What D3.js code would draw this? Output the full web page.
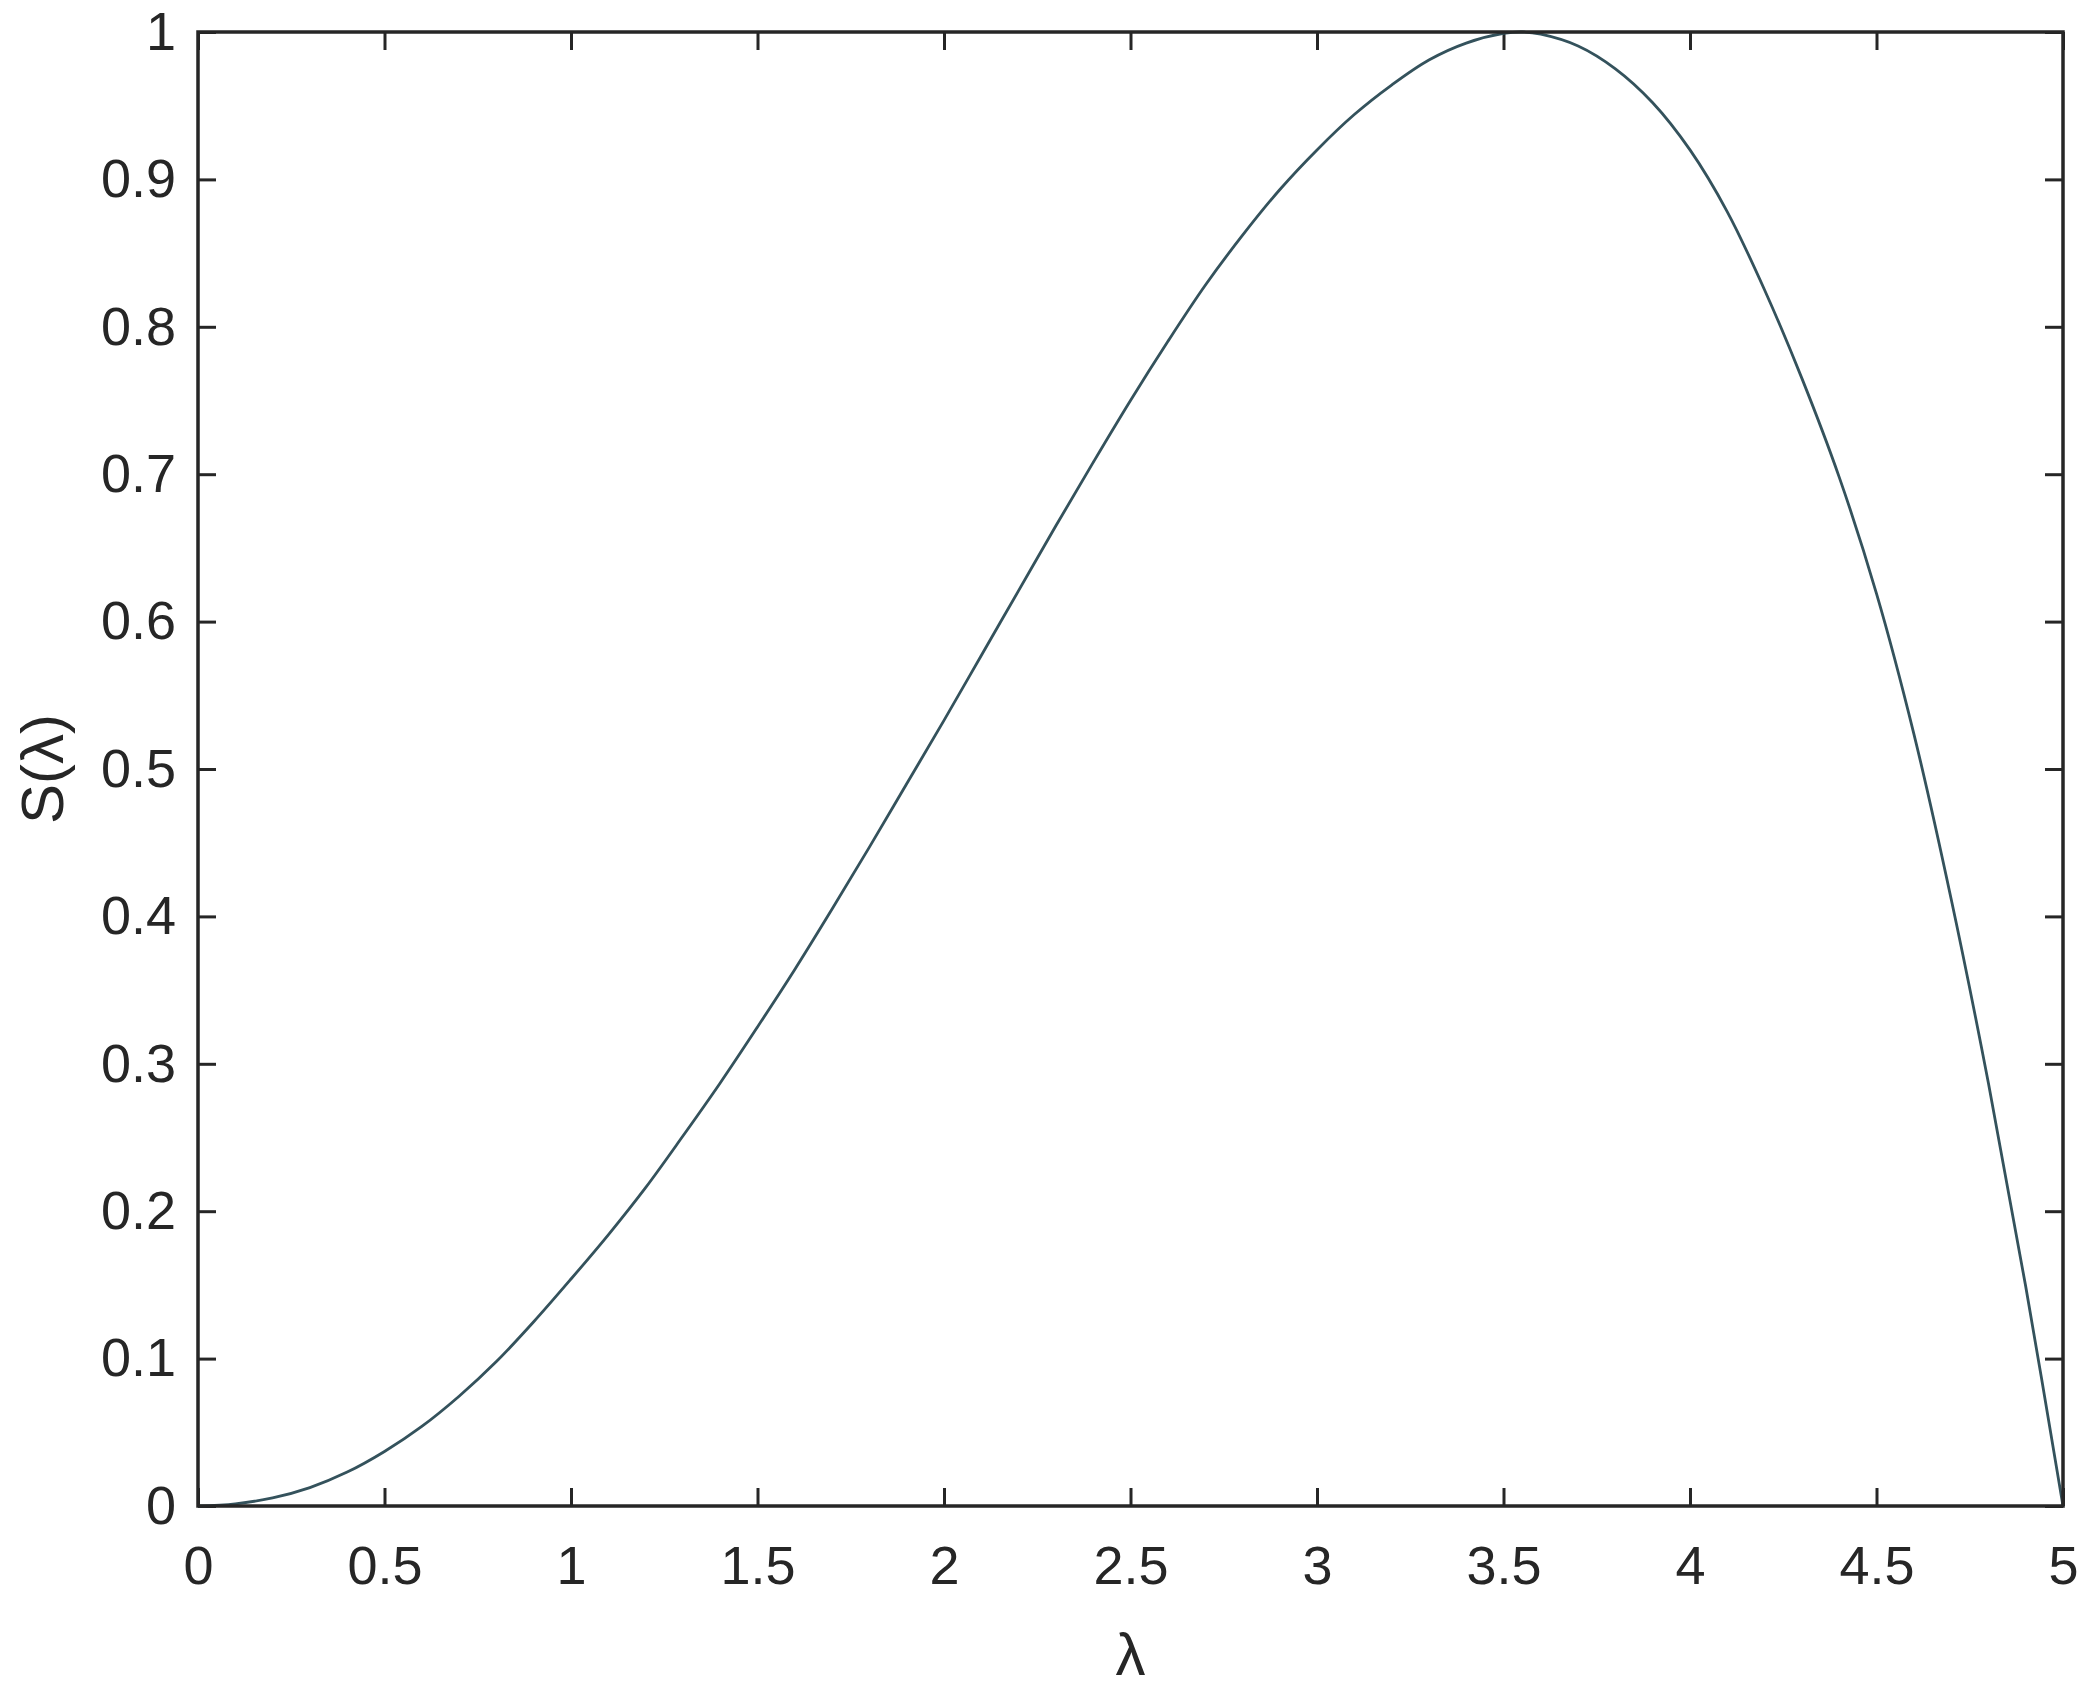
<!DOCTYPE html>
<html>
<head>
<meta charset="utf-8">
<script src="https://cdn.jsdelivr.net/npm/d3@7"></script>
<style>
  html, body { margin: 0; padding: 0; background: #ffffff; }
  svg { display: block; }
</style>
</head>
<body>
<script>
// Data
const lambdaValues = [0, 0.1, 0.2, 0.3, 0.4, 0.5, 0.6, 0.7, 0.8, 0.9, 1.0, 1.1, 1.2, 1.3, 1.4, 1.5, 1.6, 1.7, 1.8, 1.9, 2.0, 2.1, 2.2, 2.3, 2.4, 2.5, 2.6, 2.7, 2.8, 2.9, 3.0, 3.1, 3.2, 3.3, 3.4, 3.5, 3.55, 3.6, 3.7, 3.8, 3.9, 4.0, 4.1, 4.2, 4.3, 4.4, 4.5, 4.6, 4.7, 4.8, 4.9, 5.0];
const sValues = [0, 0.0015, 0.0055, 0.0125, 0.023, 0.037, 0.054, 0.0745, 0.098, 0.125, 0.154, 0.184, 0.216, 0.251, 0.287, 0.325, 0.364, 0.405, 0.447, 0.490, 0.533, 0.577, 0.621, 0.665, 0.708, 0.750, 0.790, 0.828, 0.862, 0.893, 0.920, 0.944, 0.964, 0.981, 0.9925, 0.999, 1.0, 0.9985, 0.9905, 0.975, 0.952, 0.920, 0.878, 0.825, 0.765, 0.698, 0.619, 0.524, 0.412, 0.287, 0.149, 0];
const xTicks = [0, 0.5, 1, 1.5, 2, 2.5, 3, 3.5, 4, 4.5, 5];
const xTickLabels = ["0", "0.5", "1", "1.5", "2", "2.5", "3", "3.5", "4", "4.5", "5"];
const yTicks = [0, 0.1, 0.2, 0.3, 0.4, 0.5, 0.6, 0.7, 0.8, 0.9, 1];
const yTickLabels = ["0", "0.1", "0.2", "0.3", "0.4", "0.5", "0.6", "0.7", "0.8", "0.9", "1"];
const xLabel = "λ";
const yLabel = "S(λ)";

const W = 2091, H = 1692;
const plotL = 198, plotR = 2063, plotT = 32, plotB = 1506;
const axisColor = "#262626";
const font = "'Liberation Sans', Arial, Helvetica, sans-serif";

const svg = d3.select("body").append("svg").attr("width", W).attr("height", H);
svg.append("rect").attr("width", W).attr("height", H).attr("fill", "#fff");

const x = d3.scaleLinear().domain([0, 5]).range([plotL, plotR]);
const y = d3.scaleLinear().domain([0, 1]).range([plotB, plotT]);

const tickLen = 18;

function styleAxis(g, showText) {
  g.selectAll(".domain").remove();
  g.selectAll(".tick line").attr("stroke", axisColor).attr("stroke-width", 3);
  g.selectAll(".tick text")
    .attr("fill", axisColor)
    .style("font-family", font)
    .style("font-size", "54px");
  if (!showText) g.selectAll(".tick text").remove();
}

// bottom axis
svg.append("g").attr("transform", `translate(0,${plotB})`)
  .call(d3.axisBottom(x).tickValues(xTicks).tickFormat((d, i) => xTickLabels[i])
    .tickSizeInner(-tickLen).tickSizeOuter(0).tickPadding(40))
  .call(g => styleAxis(g, true));
// top axis
svg.append("g").attr("transform", `translate(0,${plotT})`)
  .call(d3.axisTop(x).tickValues(xTicks).tickSizeInner(-tickLen).tickSizeOuter(0))
  .call(g => styleAxis(g, false));
// left axis
svg.append("g").attr("transform", `translate(${plotL},0)`)
  .call(d3.axisLeft(y).tickValues(yTicks).tickFormat((d, i) => yTickLabels[i])
    .tickSizeInner(-tickLen).tickSizeOuter(0).tickPadding(22))
  .call(g => styleAxis(g, true));
// right axis
svg.append("g").attr("transform", `translate(${plotR},0)`)
  .call(d3.axisRight(y).tickValues(yTicks).tickSizeInner(-tickLen).tickSizeOuter(0))
  .call(g => styleAxis(g, false));

// curve
const data = lambdaValues.map((l, i) => ({ l, s: sValues[i] }));
const line = d3.line().x(d => x(d.l)).y(d => y(d.s)).curve(d3.curveCatmullRom.alpha(0.5));
svg.append("path").datum(data)
  .attr("d", line)
  .attr("fill", "none")
  .attr("stroke", "#34525c")
  .attr("stroke-width", 2.8)
  .attr("stroke-linejoin", "round");

// frame
svg.append("rect")
  .attr("x", plotL).attr("y", plotT)
  .attr("width", plotR - plotL).attr("height", plotB - plotT)
  .attr("fill", "none").attr("stroke", axisColor).attr("stroke-width", 3.5);

// axis labels
svg.append("text")
  .attr("x", (plotL + plotR) / 2).attr("y", 1675)
  .attr("text-anchor", "middle")
  .attr("fill", axisColor)
  .style("font-family", font).style("font-size", "60px")
  .text(xLabel);

svg.append("text")
  .attr("transform", `translate(63,${(plotT + plotB) / 2}) rotate(-90)`)
  .attr("text-anchor", "middle")
  .attr("fill", axisColor)
  .style("font-family", font).style("font-size", "60px")
  .text(yLabel);
</script>
</body>
</html>
